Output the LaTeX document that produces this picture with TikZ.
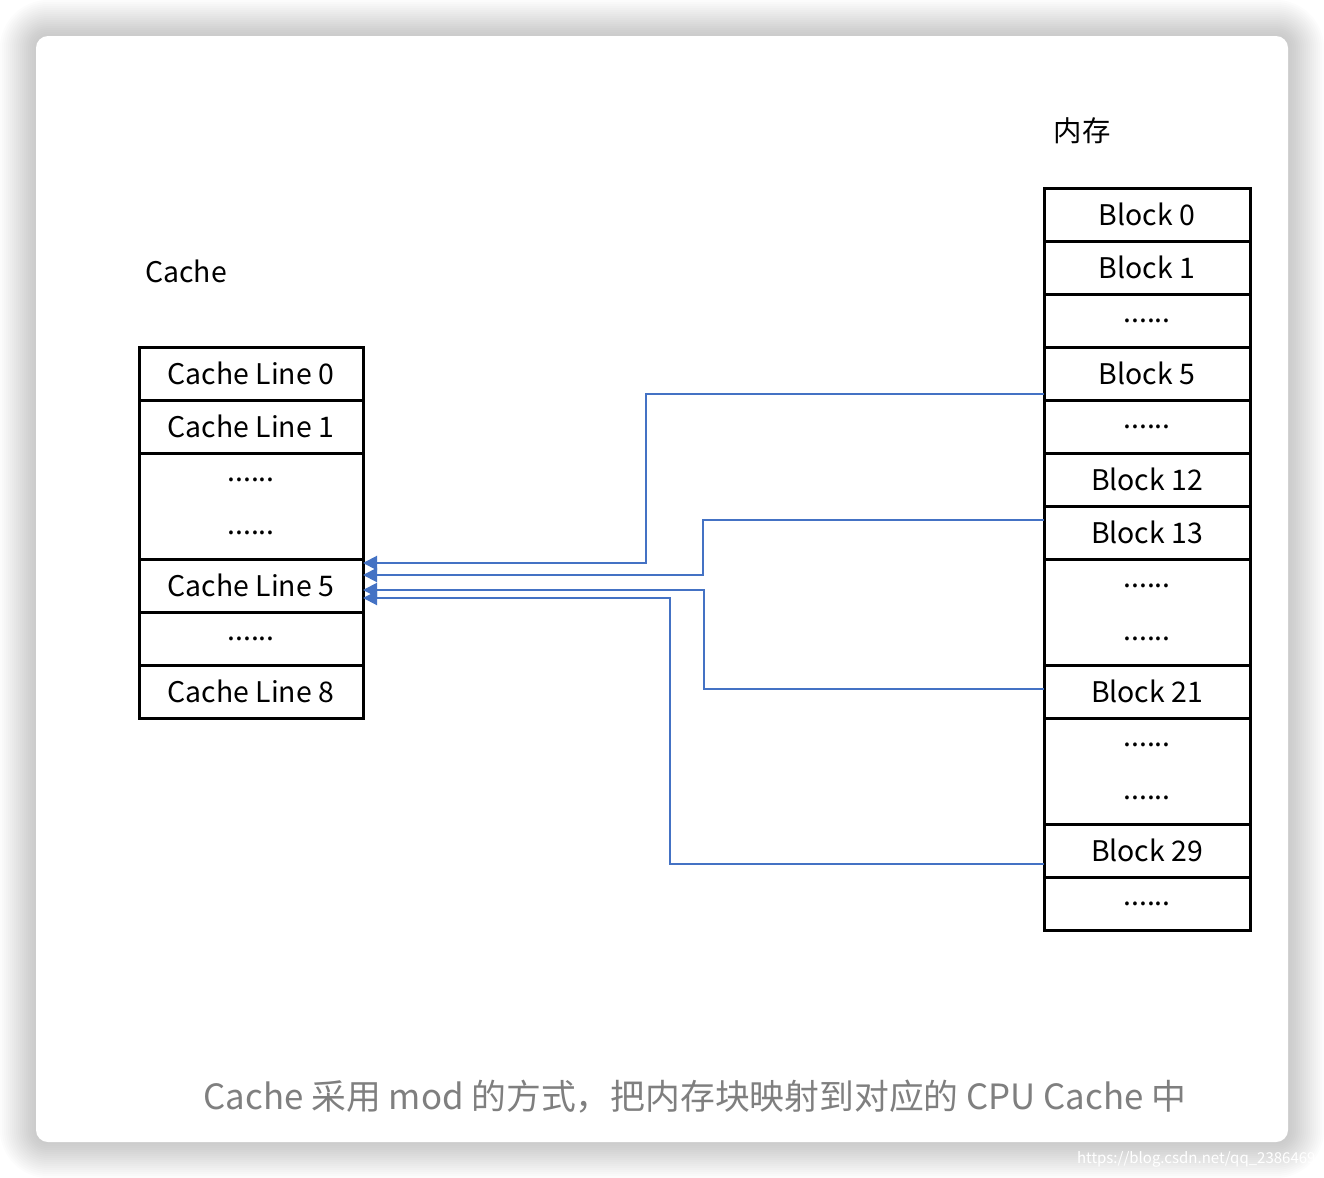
\documentclass[tikz,border=0pt]{standalone}
\usepackage{fontspec}
\setmainfont{Noto Sans CJK SC}
\usetikzlibrary{positioning,arrows.meta}
\definecolor{linkblue}{HTML}{4472C4}
\definecolor{capgray}{HTML}{7F7F7F}
\tikzset{row/.style={draw,line width=1.5pt,minimum height=26.5pt,inner sep=0pt,outer sep=0pt,
                     font=\fontsize{14.2}{26.5}\selectfont},
         cache row/.style={row,minimum width=112pt},
         mem row/.style={row,minimum width=103pt},
         tall/.style={minimum height=53pt,align=center},
         link/.style={draw,linkblue,line width=1pt,-{Triangle[length=7pt,width=7pt]}},
            }

\begin{document}
\begin{tikzpicture}[x={(0.5pt,0)},y={(0,-0.5pt)}]
    \useasboundingbox (0,0) rectangle (1324,1178);
    % card and its shadow
    \foreach \r in {36,34,...,2}
        \fill[black,opacity=0.011,rounded corners=6pt+0.5*\r pt] (36-\r,36-\r) rectangle (1288+\r,1142+\r);
    \fill[white,rounded corners=6pt] (36,36) rectangle (1288,1142);

    \node[font=\fontsize{14.2}{18}\selectfont] (cachetitle) at (186,271) {Cache};
    \node[font=\fontsize{14.2}{18}\selectfont] (memtitle) at (1082,131) {内存};

    % cache lines
    \node[cache row] (cl0) at (251,373.5) {Cache Line 0};
    \node[cache row] (cl1) [below = 0pt of cl0] {Cache Line 1};
    \node[cache row,tall] (cd1) [below = 0pt of cl1] {......\\......};
    \node[cache row] (cl5) [below = 0pt of cd1] {Cache Line 5};
    \node[cache row] (cd2) [below = 0pt of cl5] {......};
    \node[cache row] (cl8) [below = 0pt of cd2] {Cache Line 8};

    % memory blocks
    \node[mem row] (b0) at (1147,214.5) {Block 0};
    \node[mem row] (b1) [below = 0pt of b0] {Block 1};
    \node[mem row] (md1) [below = 0pt of b1] {......};
    \node[mem row] (b5) [below = 0pt of md1] {Block 5};
    \node[mem row] (md2) [below = 0pt of b5] {......};
    \node[mem row] (b12) [below = 0pt of md2] {Block 12};
    \node[mem row] (b13) [below = 0pt of b12] {Block 13};
    \node[mem row,tall] (md3) [below = 0pt of b13] {......\\......};
    \node[mem row] (b21) [below = 0pt of md3] {Block 21};
    \node[mem row,tall] (md4) [below = 0pt of b21] {......\\......};
    \node[mem row] (b29) [below = 0pt of md4] {Block 29};
    \node[mem row] (md5) [below = 0pt of b29] {......};

    \path[link] ([yshift=3pt]b5.south west) -- ++(-398,0) |- ([yshift=-2pt]cl5.north east);
    \path[link] ([yshift=-7pt]b13.north west) -- ++(-341,0) |- ([yshift=-8pt]cl5.north east);
    \path[link] ([yshift=-12pt]b21.north west) -- ++(-340,0) |- ([yshift=-15.5pt]cl5.north east);
    \path[link] ([yshift=6.5pt]b29.south west) -- ++(-374,0) |- ([yshift=-19.5pt]cl5.north east);

    \node[text=capgray,font=\fontsize{17.4}{22}\selectfont] (caption) at (695,1097)
        {Cache 采用 mod 的方式，把内存块映射到对应的 CPU Cache 中};
    \node[text=white,font=\fontsize{7.5}{9}\selectfont,anchor=west] (mark) at (1070,1159)
        {https://blog.csdn.net/qq\_2386469};
\end{tikzpicture}
\end{document}
